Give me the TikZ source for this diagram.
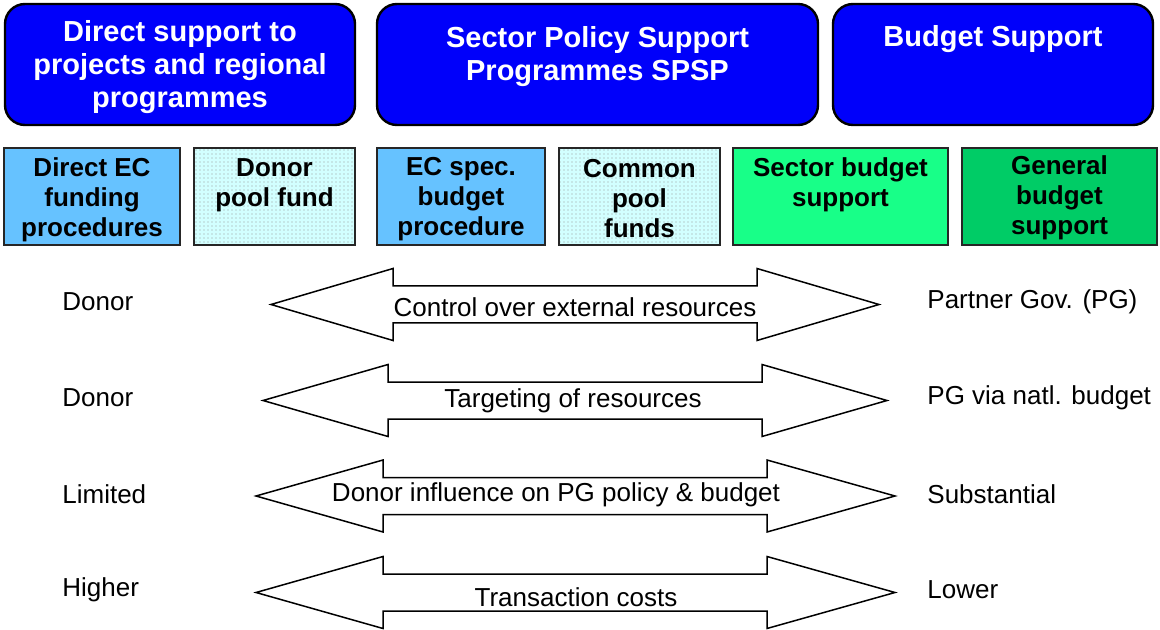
\documentclass[tikz,border=0pt]{standalone}
\usepackage{fontspec}
\setmainfont{Liberation Sans}
\usepackage{xcolor}
\usetikzlibrary{positioning, patterns.meta}

\definecolor{headblue}{RGB}{0,0,250}
\definecolor{ecblue}{RGB}{102,194,255}
\definecolor{poolcyan}{RGB}{210,255,255}
\definecolor{sectorgreen}{RGB}{24,255,136}
\definecolor{generalgreen}{RGB}{0,204,102}

\tikzset{
  headbox/.style={draw=black, line width=1.2pt, fill=headblue, rounded corners=10pt,
    minimum height=60.5pt, inner sep=0pt},
  headtext/.style={text=white, font=\fontsize{14.5}{16.5}\selectfont\bfseries, align=center, inner sep=0pt},
  procbox/.style={draw=black!85, line width=1pt, minimum height=48.5pt, inner sep=0pt},
  proctext/.style={font=\fontsize{13}{15}\selectfont\bfseries, align=center, inner sep=0pt},
  poolfill/.style={preaction={fill=poolcyan}, pattern={Dots[distance=2pt, radius=0.35pt]},
    pattern color=black!40},
  bigarrow/.style={draw=black, line width=0.75pt, fill=white, line join=miter},
  plain/.style={font=\fontsize{13}{15}\selectfont, inner sep=0pt},
}

% double headed block arrow: #1 centre y, #2 left tip, #3 left head base,
% #4 right head base, #5 right tip
\newcommand{\twowayarrow}[5]{%
  \draw[bigarrow] (#2,#1) -- (#3,#1-36) -- (#3,#1-18.5) -- (#4,#1-18.5)
    -- (#4,#1-36) -- (#5,#1) -- (#4,#1+36) -- (#4,#1+18.5)
    -- (#3,#1+18.5) -- (#3,#1+36) -- cycle;}

\begin{document}
\begin{tikzpicture}[x=0.5pt, y=-0.5pt]
    \useasboundingbox (0,0) rectangle (1160,630);

    % 三类援助方式
    \node[headbox, minimum width=175pt] (direct) at (180,64.5) {};
    \node[headbox, minimum width=220.5pt] (spsp) at (597.5,64.5) {};
    \node[headbox, minimum width=160pt] (budget) at (993,64.5) {};
    \node[headtext] (directtxt) at (180,67) {Direct support to\\projects and regional\\programmes};
    \node[headtext] (spsptxt) at (597.5,56.5) {Sector Policy Support\\Programmes SPSP};
    \node[headtext] (budgettxt) at (993,39) {Budget Support};

    % 资金渠道
    \node[procbox, fill=ecblue, minimum width=88pt] (ecfund) at (92,196.5) {};
    \node[procbox, poolfill, minimum width=80.5pt] (donorpool) at (274.5,196.5) {};
    \node[procbox, fill=ecblue, minimum width=84pt] (ecspec) at (461,196.5) {};
    \node[procbox, poolfill, minimum width=80.5pt] (commonpool) at (639.5,196.5) {};
    \node[procbox, fill=sectorgreen, minimum width=107.5pt] (sectorbs) at (840.5,196.5) {};
    \node[procbox, fill=generalgreen, minimum width=97.5pt] (generalbs) at (1059.5,196.5) {};

    \node[proctext] (ecfundtxt) at (92,199.5) {Direct EC\\funding\\procedures};
    \node[proctext] (donorpooltxt) at (274.5,185) {Donor\\pool fund};
    \node[proctext] (ecspectxt) at (461,199.5) {EC spec.\\budget\\procedure};
    \node[proctext] (commonpooltxt) at (639.5,199) {Common\\pool\\funds};
    \node[proctext] (sectorbstxt) at (840.5,185) {Sector budget\\support};
    \node[proctext] (generalbstxt) at (1059.5,198) {General\\budget\\support};

    % 双向箭头
    \twowayarrow{304.5}{271}{393}{757}{879}
    \twowayarrow{400.5}{263}{388}{762}{887}
    \twowayarrow{496}{256}{383}{767}{895}
    \twowayarrow{592.5}{256}{383}{767}{895}

    \node[plain] (control) at (575,307) {Control over external resources};
    \node[plain] (target) at (573,401) {Targeting of resources};
    \node[plain] (influence) at (556,495) {Donor influence on PG policy \& budget};
    \node[plain] (cost) at (576,597) {Transaction costs};

    % 两端
    \node[plain, anchor=west] (l1) at (62,302) {Donor};
    \node[plain, anchor=west] (l2) at (62,398) {Donor};
    \node[plain, anchor=west] (l3) at (62,494) {Limited};
    \node[plain, anchor=west] (l4) at (62,590) {Higher};

    \node[plain, anchor=west] (r1) at (927,302) {Partner Gov. (PG)};
    \node[plain, anchor=west] (r2) at (927,398) {PG via natl. budget};
    \node[plain, anchor=west] (r3) at (927,494) {Substantial};
    \node[plain, anchor=west] (r4) at (927,590) {Lower};
\end{tikzpicture}
\end{document}
